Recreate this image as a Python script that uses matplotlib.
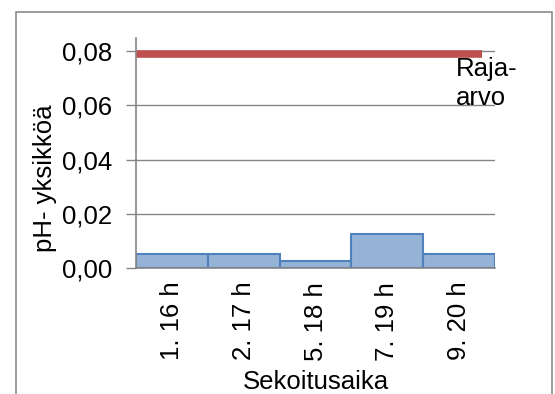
import numpy as np
import matplotlib.pyplot as plt
from matplotlib.patches import Rectangle

# Sekoitusajat ja mitatut pH-muutokset
categories = ['1. 16 h', '2. 17 h', '5. 18 h', '7. 19 h', '9. 20 h']
ph_change = [0.005, 0.005, 0.0025, 0.0125, 0.005]
raja_arvo = 0.079

plt.rcParams['font.family'] = ['Liberation Sans', 'DejaVu Sans']
plt.rcParams['font.size'] = 18.5

fig = plt.figure(figsize=(5.55, 3.94), dpi=100)
ax = fig.add_axes([0.245, 0.320, 0.647, 0.584])

# chart frame around everything
fig.patches.append(Rectangle((15.5 / 555, -0.05), 536 / 555, 1 - 11.5 / 394 + 0.05,
                             transform=fig.transFigure, fill=False,
                             edgecolor='#8c8c8c', linewidth=1.2))

x = np.arange(len(categories))
ax.bar(x, ph_change, width=1.0, color='#95B3D7', edgecolor='#4F81BD',
       linewidth=1.5, zorder=3)

# limit value line
ax.hlines(raja_arvo, -0.5, 4.32, color='#C0504D', linewidth=5.5, zorder=4)
ax.text(3.96, raja_arvo - 0.0012, 'Raja-\narvo', ha='left', va='top',
        linespacing=1.25, zorder=5)

ax.set_xlim(-0.5, 4.5)
ax.set_ylim(0, 0.0849)
ax.set_yticks([0, 0.02, 0.04, 0.06, 0.08])
ax.set_yticklabels([f'{v:.2f}'.replace('.', ',') for v in [0, 0.02, 0.04, 0.06, 0.08]])
ax.set_xticks(x)
ax.set_xticklabels(categories, rotation=90)
ax.tick_params(axis='x', length=0, pad=10)
ax.tick_params(axis='y', length=7, width=1, color='#868686', pad=10)

ax.grid(axis='y', color='#868686', linewidth=1, zorder=0)
for s in ['top', 'right']:
    ax.spines[s].set_visible(False)
for s in ['left', 'bottom']:
    ax.spines[s].set_color('#868686')
    ax.spines[s].set_linewidth(1.2)
    ax.spines[s].set_zorder(6)

ax.set_ylabel('pH- yksikköä')
ax.yaxis.set_label_coords(-0.22, 0.39)
ax.set_xlabel('Sekoitusaika')
ax.xaxis.set_label_coords(0.5, -0.445)

fig.savefig('out.png', dpi=100)
